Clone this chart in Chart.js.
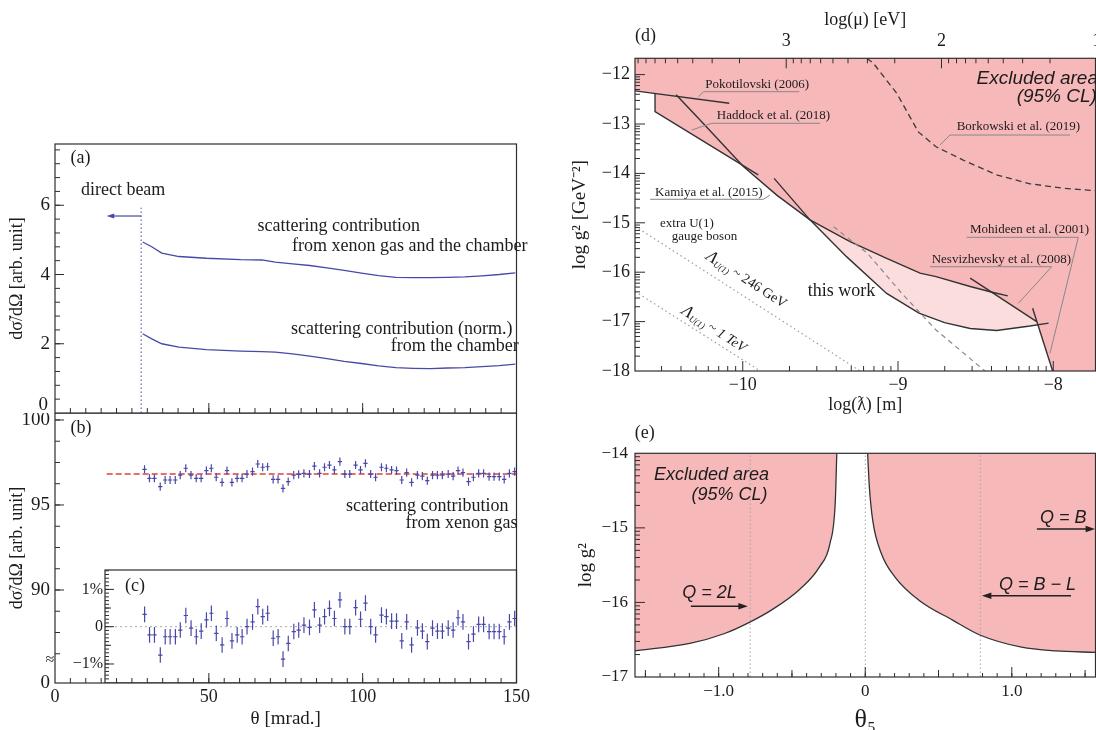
<!DOCTYPE html>
<html><head><meta charset="utf-8"><title>Scattering and exclusion limits</title>
<script src="https://cdn.jsdelivr.net/npm/chart.js@4.4.1/dist/chart.umd.min.js"></script>
<style>
html,body{margin:0;padding:0;background:#fff;width:1096px;height:730px;overflow:hidden;position:relative;}
canvas{position:absolute;display:block;}
</style></head>
<body>
<canvas id="cB" width="530" height="317" style="left:0px;top:413px;width:530px;height:317px"></canvas>
<canvas id="cC" width="470" height="117" style="left:60px;top:566px;width:470px;height:117px"></canvas>
<canvas id="cA" width="530" height="325" style="left:0px;top:100px;width:530px;height:325px"></canvas>
<canvas id="cD" width="536" height="420" style="left:560px;top:0px;width:536px;height:420px"></canvas>
<canvas id="cE" width="536" height="310" style="left:560px;top:420px;width:536px;height:310px"></canvas>
<script>
const SERIF = "'Liberation Serif', 'Times New Roman', serif";
const SANS = "'Liberation Sans', Arial, sans-serif";
const INK = '#1c1c1c', FRAME = '#2e2e2e', BLUE = '#4848a8', RED = '#e2403a';
const PINK = '#f7b8ba', PINK_LIGHT = '#fcdddd', CURVE = '#333333';

// ---------- panel (a) ----------
const thetaMin = 0, thetaMax = 150;
const thetaTicks = [0, 50, 100, 150];
const aYMax = 7.77;
const aYTicks = [0, 2, 4, 6];
const aTheta = [28.5,31.3,34.7,40.3,49.2,60.4,67.2,71.6,77.2,82.8,88.4,94.0,99.6,105.2,110.8,116.4,122.0,127.6,133.2,138.8,144.4,149.6];
const aXenonAndChamber = [4.94,4.81,4.62,4.52,4.47,4.43,4.42,4.36,4.31,4.26,4.19,4.12,4.04,3.97,3.92,3.91,3.91,3.92,3.93,3.96,4.00,4.05];
const aChamberOnly = [2.29,2.15,2.00,1.90,1.83,1.79,1.77,1.76,1.71,1.64,1.57,1.49,1.43,1.36,1.31,1.29,1.28,1.30,1.31,1.34,1.37,1.41];
const beamEdgeTheta = 28.0, beamEdgeTop = 5.93;
const beamArrowTo = 16.8, beamArrowLevel = 5.69;

// ---------- panels (b) and (c) ----------
const bYMin = 84.53, bYMax = 100.41;
const bYTicks = [100, 95, 90];
const bcTheta = [29.1,30.7,32.3,34.2,35.8,37.4,39.1,40.7,42.5,44.2,45.9,47.5,49.2,50.8,52.4,54.3,55.9,57.5,59.2,60.8,62.4,64.2,65.9,67.5,69.1,70.9,72.5,74.1,75.8,77.6,79.2,80.9,82.7,84.3,86.0,87.6,89.2,90.8,92.6,94.2,95.8,97.7,99.3,100.9,102.6,104.2,106.1,107.7,109.4,111.0,112.7,114.3,115.9,117.8,119.4,121.0,122.7,124.3,125.9,127.8,129.4,131.0,132.6,134.4,136.0,137.7,139.3,141.1,142.7,144.4,146.0,147.7,149.4];
const bXenonGas = [97.10,96.57,96.57,96.08,96.47,96.47,96.47,96.76,97.16,96.76,96.57,96.57,97.02,97.16,96.63,96.33,97.02,96.33,96.57,96.57,96.82,96.96,97.41,97.22,97.25,96.51,96.51,95.98,96.37,96.76,96.80,96.86,96.82,97.29,96.86,97.22,97.35,97.06,97.55,96.82,96.82,97.35,97.06,97.45,96.82,96.63,97.22,97.16,97.06,97.02,96.47,96.90,96.33,96.76,96.70,96.43,96.76,96.76,96.76,96.82,96.70,97.02,96.90,96.37,96.63,96.86,96.86,96.67,96.67,96.67,96.51,96.86,96.96];
const bFitLevel = 96.82, bFitStart = 16.8;
const bErr = 0.24, binHalfWidth = 0.7;
const cXMin = 16.22, cYMin = -1.51, cYMax = 1.52;
const cYTicks = [1, 0, -1];
const cResidual = [0.33,-0.22,-0.22,-0.76,-0.27,-0.27,-0.27,-0.09,0.30,-0.04,-0.27,-0.12,0.18,0.36,-0.18,-0.49,0.22,-0.38,-0.22,-0.27,0.00,0.13,0.54,0.27,0.36,-0.31,-0.27,-0.87,-0.45,-0.13,-0.09,0.04,-0.02,0.45,0.04,0.27,0.49,0.22,0.72,0.00,0.00,0.51,0.20,0.63,0.00,-0.22,0.31,0.27,0.15,0.15,-0.38,0.13,-0.49,-0.03,-0.12,-0.40,-0.04,-0.12,-0.12,-0.04,-0.09,0.24,0.13,-0.40,-0.20,0.06,0.06,-0.13,-0.13,-0.13,-0.27,0.13,0.22];
const cErr = 0.21;

// ---------- panel (d) ----------
const dXMin = -10.694, dXMax = -7.728, dYMin = -18, dYMax = -11.67;
const HC_LOG = 6.72; // log(mu[eV]) = -HC_LOG - log(lambda[m])
const dXTicks = [-10, -9, -8];
const dYTicks = [-12, -13, -14, -15, -16, -17, -18];
const dMuTicks = [3, 2, 1];
const dPokotilovski = [[-10.694,-12.33],[-10.087,-12.58]];
const dHaddock = [[-10.565,-12.38],[-10.565,-12.75],[-9.90,-14.03]];
const dKamiya = [[-10.429,-12.41],[-10.254,-12.99],[-9.996,-13.86],[-9.781,-14.44],[-9.567,-14.94],[-9.309,-15.38],[-9.073,-15.72],[-8.858,-16.02],[-8.755,-16.09],[-8.535,-16.29],[-8.40,-16.40],[-8.293,-16.48]];
const dThisWork = [[-9.798,-14.10],[-9.567,-14.94],[-9.33,-15.69],[-9.073,-16.43],[-8.865,-16.83],[-8.70,-17.02],[-8.535,-17.14],[-8.365,-17.18],[-8.15,-17.09],[-8.03,-17.03]];
const dNesvizhevsky = [[-8.535,-16.12],[-8.107,-17.00]];
const dMohideen = [[-8.133,-16.73],[-8.004,-18.00]];
const dBorkowski = [[-9.20,-11.67],[-9.159,-11.77],[-9.008,-12.38],[-8.869,-13.16],[-8.755,-13.46],[-8.58,-13.73],[-8.365,-14.03],[-8.15,-14.21],[-7.936,-14.30],[-7.728,-14.35]];
const dOtherDashed = [[-9.415,-15.08],[-9.196,-15.62],[-8.975,-16.43],[-8.755,-17.17],[-8.44,-18.00]];
const dLambda246GeV = [[-10.694,-15.07],[-9.244,-18.00]];
const dLambda1TeV = [[-10.694,-16.39],[-9.887,-18.00]];
const dExcludedEdge = [[-10.694,-12.33],[-10.565,-12.38],[-10.565,-12.75],[-9.996,-13.845],[-9.781,-14.44],[-9.567,-14.94],[-9.309,-15.38],[-9.073,-15.72],[-8.858,-16.02],[-8.755,-16.09],[-8.535,-16.29],[-8.40,-16.40],[-8.107,-17.00],[-8.004,-18.00]];

// ---------- panel (e) ----------
const eXMin = -1.571, eXMax = 1.571, eYMin = -17, eYMax = -14;
const eXTicks = [-1, 0, 1];
const eYTicks = [-14, -15, -16, -17];
const thetaMarks = [-0.785, 0, 0.785];
const eLeftEdge = [[-1.571,-16.65],[-1.197,-16.55],[-0.964,-16.42],[-0.784,-16.26],[-0.638,-16.10],[-0.45,-15.83],[-0.311,-15.52],[-0.241,-15.21],[-0.205,-14.67],[-0.194,-14.0]];
const eRightEdge = [[0.016,-14.0],[0.028,-14.45],[0.051,-14.90],[0.109,-15.34],[0.203,-15.66],[0.366,-15.97],[0.599,-16.24],[0.786,-16.44],[1.066,-16.60],[1.30,-16.65],[1.571,-16.67]];

// ---------- helpers ----------
Chart.defaults.font.family = SERIF;
const minus = v => (v < 0 ? '\u2212' : '') + Math.abs(v);
const pairs = arr => arr.map(([x, y]) => ({x, y}));
const pts = (xs, ys) => xs.map((x, i) => ({x, y: ys[i]}));
function range(a, b, step) { const r = []; for (let i = 0; a + i * step <= b + 1e-9; i++) r.push(+(a + i * step).toFixed(6)); return r; }
function logMinor(n0, n1) { const r = []; for (let n = n0; n <= n1; n++) for (let k = 2; k <= 9; k++) r.push(n + Math.log10(k)); return r; }
function errorCross(xs, ys, ey, ex) {
  const d = [];
  xs.forEach((x, i) => { const y = ys[i]; d.push({x, y: y - ey}, {x, y: y + ey}, {x, y: null}, {x: x - ex, y}, {x: x + ex, y}, {x, y: null}); });
  return d;
}
function line(data, color, width, extra) {
  return Object.assign({type: 'line', data, borderColor: color, borderWidth: width, pointRadius: 0, fill: false, tension: 0, order: 1, xAxisID: 'x', yAxisID: 'y'}, extra || {});
}
function fillEnd(data, color, order, extra) {
  return Object.assign({type: 'line', data, borderColor: 'rgba(0,0,0,0)', borderWidth: 0, backgroundColor: color, fill: 'end', pointRadius: 0, tension: 0, order, xAxisID: 'x', yAxisID: 'y'}, extra || {});
}
function axis(o) {
  return {
    type: 'linear', position: o.position, min: o.min, max: o.max, reverse: !!o.reverse, display: o.display !== false,
    grid: {display: false, drawTicks: false}, border: {display: false},
    ticks: {font: {family: SERIF, size: o.fontSize || 18}, color: INK, padding: o.pad == null ? 5 : o.pad, autoSkip: false, maxRotation: 0, minRotation: 0, callback: o.fmt || (v => minus(v))},
    title: o.title ? {display: true, text: o.title, font: {family: SERIF, size: o.titleSize || 18}, color: INK, padding: o.titlePad || {top: 0, bottom: 0}} : {display: false},
    afterBuildTicks: s => { if (o.ticks) s.ticks = o.ticks.map(v => ({value: v})); },
    afterFit: s => {
      if (o.size != null) { if (s.isHorizontal()) s.height = o.size; else s.width = o.size; }
      s.paddingLeft = 0; s.paddingRight = 0; s.paddingTop = 0; s.paddingBottom = 0;
    }
  };
}
function baseOptions(scales, padding) {
  return {responsive: false, animation: false, events: [], devicePixelRatio: 1, layout: {padding},
    plugins: {legend: {display: false}, tooltip: {enabled: false}, title: {display: false}}, scales};
}
function decor(spec) {
  return {
    id: spec.id,
    afterDatasetsDraw(chart) {
      const ctx = chart.ctx, a = chart.chartArea;
      const xs = chart.scales[spec.xScale || 'x'], ys = chart.scales[spec.yScale || 'y'];
      const X = v => xs.getPixelForValue(v), Y = v => ys.getPixelForValue(v);
      ctx.save();
      (spec.segments || []).forEach(s => {
        ctx.beginPath(); ctx.strokeStyle = s.color || '#888'; ctx.lineWidth = s.width || 1; ctx.setLineDash(s.dash || []);
        s.pts.forEach((p, i) => { const px = X(p[0]), py = Y(p[1]); if (i) ctx.lineTo(px, py); else ctx.moveTo(px, py); });
        ctx.stroke();
      });
      ctx.setLineDash([]);
      (spec.arrows || []).forEach(r => {
        const x1 = X(r.x1), y1 = Y(r.y1), x2 = X(r.x2), y2 = Y(r.y2), h = r.head || 9, ang = Math.atan2(y2 - y1, x2 - x1);
        ctx.strokeStyle = r.color || INK; ctx.fillStyle = r.color || INK; ctx.lineWidth = r.width || 1.4;
        ctx.beginPath(); ctx.moveTo(x1, y1); ctx.lineTo(x2 - Math.cos(ang) * h * 0.6, y2 - Math.sin(ang) * h * 0.6); ctx.stroke();
        ctx.beginPath(); ctx.moveTo(x2, y2);
        ctx.lineTo(x2 - h * Math.cos(ang - 0.33), y2 - h * Math.sin(ang - 0.33));
        ctx.lineTo(x2 - h * Math.cos(ang + 0.33), y2 - h * Math.sin(ang + 0.33));
        ctx.closePath(); ctx.fill();
      });
      ctx.strokeStyle = FRAME; ctx.lineWidth = 1;
      (spec.ticks || []).forEach(t => {
        const sc = chart.scales[t.scale];
        const horiz = t.edge === 'top' || t.edge === 'bottom';
        [[t.minor || [], t.minorLen || 4], [t.medium || [], t.mediumLen || 6], [t.major || [], t.majorLen || 9]].forEach(([vals, len]) => {
          vals.forEach(v => {
            const p = sc.getPixelForValue(v);
            ctx.beginPath();
            if (horiz) {
              if (p < a.left + 0.5 || p > a.right - 0.5) return;
              const y0 = t.edge === 'bottom' ? a.bottom : a.top;
              ctx.moveTo(p, y0); ctx.lineTo(p, t.edge === 'bottom' ? y0 - len : y0 + len);
            } else {
              if (p < a.top + 0.5 || p > a.bottom - 0.5) return;
              const x0 = t.edge === 'left' ? a.left : a.right;
              ctx.moveTo(x0, p); ctx.lineTo(t.edge === 'left' ? x0 + len : x0 - len, p);
            }
            ctx.stroke();
          });
        });
      });
      if (spec.frame !== false) { ctx.strokeStyle = FRAME; ctx.lineWidth = 1.2; ctx.strokeRect(a.left, a.top, a.right - a.left, a.bottom - a.top); }
      (spec.texts || []).forEach(t => {
        ctx.save();
        ctx.translate(X(t.x), Y(t.y));
        if (t.rotate) ctx.rotate(t.rotate * Math.PI / 180);
        ctx.fillStyle = t.color || INK; ctx.textBaseline = 'middle'; ctx.textAlign = 'left';
        const parts = t.parts || [{text: t.text, font: t.font}];
        let total = 0;
        const widths = parts.map(p => { ctx.font = p.font; const w = ctx.measureText(p.text).width; total += w; return w; });
        let cx = t.align === 'right' ? -total : (t.align === 'center' ? -total / 2 : 0);
        parts.forEach((p, i) => { ctx.font = p.font; ctx.fillText(p.text, cx, p.dy || 0); cx += widths[i]; });
        ctx.restore();
      });
      ctx.restore();
    }
  };
}
const F = (size, style) => `${style ? style + ' ' : ''}${size}px ${SERIF}`;
const FS = (size) => `italic ${size}px ${SANS}`;
const yTitleAB = 'd\u03C3\u0303/d\u03A9 [arb. unit]';

// ---------- chart (b) ----------
new Chart(document.getElementById('cB'), {
  type: 'line',
  data: {datasets: [
    line([{x: bFitStart, y: bFitLevel}, {x: thetaMax, y: bFitLevel}], RED, 1.6, {borderDash: [6, 3], order: 2}),
    line(errorCross(bcTheta, bXenonGas, bErr, binHalfWidth), BLUE, 1.2, {order: 1})
  ]},
  options: baseOptions({
    x: axis({position: 'bottom', min: thetaMin, max: thetaMax, ticks: thetaTicks, size: 47, fontSize: 18, pad: 3.5, title: '\u03B8 [mrad.]', titleSize: 19, titlePad: {top: 0, bottom: 0}}),
    y: axis({position: 'left', min: bYMin, max: bYMax, ticks: [...bYTicks, bYMin], size: 55, fontSize: 19, pad: 5, fmt: v => (v === bYMin ? '0' : String(v)), title: yTitleAB, titleSize: 18, titlePad: {top: 6, bottom: 0}})
  }, {top: 0, right: 13.5, bottom: 0, left: 0}),
  plugins: [decor({
    id: 'decorB',
    ticks: [
      {scale: 'y', edge: 'left', major: [...bYTicks], minor: range(86.25, 100, 1.25), majorLen: 9, minorLen: 5},
      {scale: 'x', edge: 'bottom', major: thetaTicks, minor: range(0, 150, 5), majorLen: 10, minorLen: 5}
    ],
    texts: [
      {x: 5.07, y: 99.5, text: '(b)', font: F(18)},
      {x: 94.58, y: 94.94, text: 'scattering contribution', font: F(18)},
      {x: 113.95, y: 93.92, text: 'from xenon gas', font: F(18)},
      {x: -1.7, y: 85.88, text: '\u2248', font: F(16), align: 'center'}
    ]
  })]
});

// ---------- chart (c) inset ----------
new Chart(document.getElementById('cC'), {
  type: 'line',
  data: {datasets: [
    line([{x: cXMin, y: 0}, {x: thetaMax, y: 0}], '#a8a8a8', 1, {borderDash: [2, 3], order: 2}),
    line(errorCross(bcTheta, cResidual, cErr, binHalfWidth), BLUE, 1.2, {order: 1})
  ]},
  options: baseOptions({
    x: axis({position: 'bottom', min: cXMin, max: thetaMax, display: false}),
    y: axis({position: 'left', min: cYMin, max: cYMax, ticks: cYTicks, size: 45, fontSize: 16, pad: 2, fmt: v => (v === 0 ? '0' : minus(v) + '%')})
  }, {top: 4, right: 13.5, bottom: 0, left: 0}),
  plugins: [decor({
    id: 'decorC',
    ticks: [{scale: 'y', edge: 'left', major: cYTicks, medium: [-0.5, 0.5], minor: range(-1.5, 1.5, 0.1), majorLen: 9, mediumLen: 6, minorLen: 4}],
    texts: [{x: 22.75, y: 1.072, text: '(c)', font: F(18)}]
  })]
});

// ---------- chart (a) ----------
new Chart(document.getElementById('cA'), {
  type: 'line',
  data: {datasets: [
    line(pts(aTheta, aXenonAndChamber), BLUE, 1.3),
    line(pts(aTheta, aChamberOnly), BLUE, 1.3),
    line([{x: beamEdgeTheta, y: 0}, {x: beamEdgeTheta, y: beamEdgeTop}], BLUE, 1, {borderDash: [1.5, 2.5]})
  ]},
  options: baseOptions({
    x: axis({position: 'bottom', min: thetaMin, max: thetaMax, display: false}),
    y: axis({position: 'left', min: 0, max: aYMax, ticks: aYTicks, size: 55, fontSize: 19, pad: 5, fmt: v => (v === 0 ? '' : minus(v)), title: yTitleAB, titleSize: 18, titlePad: {top: 6, bottom: 0}})
  }, {top: 44, right: 13.5, bottom: 12, left: 0}),
  plugins: [decor({
    id: 'decorA',
    ticks: [
      {scale: 'y', edge: 'left', major: aYTicks, minor: range(0, 7.6, 0.4), majorLen: 9, minorLen: 5},
      {scale: 'x', edge: 'bottom', major: thetaTicks, minor: range(0, 150, 5), majorLen: 10, minorLen: 5}
    ],
    arrows: [{x1: beamEdgeTheta, y1: beamArrowLevel, x2: beamArrowTo, y2: beamArrowLevel, color: BLUE, head: 8, width: 1.2}],
    texts: [
      {x: -2.28, y: 0.231, text: '0', font: F(19), align: 'right'},
      {x: 5.07, y: 7.357, text: '(a)', font: F(18)},
      {x: 8.42, y: 6.421, text: 'direct beam', font: F(18)},
      {x: 65.85, y: 5.381, text: 'scattering contribution', font: F(18)},
      {x: 77.03, y: 4.824, text: 'from xenon gas and the chamber', font: F(18)},
      {x: 76.71, y: 2.418, text: 'scattering contribution (norm.)', font: F(18)},
      {x: 109.14, y: 1.935, text: 'from the chamber', font: F(18)}
    ]
  })]
});

// ---------- chart (d) ----------
new Chart(document.getElementById('cD'), {
  type: 'line',
  data: {datasets: [
    fillEnd(pairs(dThisWork), PINK_LIGHT, 20),
    fillEnd(pairs(dExcludedEdge).concat([{x: dXMax, y: dYMin}]), PINK, 10),
    line(pairs(dLambda246GeV), '#9c9c9c', 1.2, {borderDash: [1.5, 3]}),
    line(pairs(dLambda1TeV), '#9c9c9c', 1.2, {borderDash: [1.5, 3]}),
    line(pairs(dOtherDashed), '#8a8a8a', 1.2, {borderDash: [5, 4]}),
    line(pairs(dBorkowski), '#3a3a3a', 1.3, {borderDash: [6, 4]}),
    line(pairs(dPokotilovski), CURVE, 1.4),
    line(pairs(dHaddock), CURVE, 1.4),
    line(pairs(dKamiya), CURVE, 1.4),
    line(pairs(dThisWork), CURVE, 1.4),
    line(pairs(dNesvizhevsky), CURVE, 1.4),
    line(pairs(dMohideen), CURVE, 1.4)
  ]},
  options: baseOptions({
    x: axis({position: 'bottom', min: dXMin, max: dXMax, ticks: dXTicks, size: 49, fontSize: 18, pad: 3.2, title: 'log(\u019B) [m]', titleSize: 18, titlePad: {top: 0, bottom: 4.2}}),
    x2: axis({position: 'top', min: -HC_LOG - dXMax, max: -HC_LOG - dXMin, reverse: true, ticks: dMuTicks, size: 58.3, fontSize: 18, pad: 5.8, title: 'log(\u03BC) [eV]', titleSize: 18, titlePad: {top: 9.2, bottom: 0}}),
    y: axis({position: 'left', min: dYMin, max: dYMax, ticks: dYTicks, size: 75, fontSize: 18, pad: 5, title: 'log g\u00B2 [GeV\u207B\u00B2]', titleSize: 19, titlePad: {top: 9.1, bottom: 0}})
  }, {top: 0, right: 0.5, bottom: 0, left: 0}),
  plugins: [decor({
    id: 'decorD',
    ticks: [
      {scale: 'y', edge: 'left', major: dYTicks, minor: logMinor(-18, -13), majorLen: 10, minorLen: 5},
      {scale: 'x', edge: 'bottom', major: dXTicks, minor: logMinor(-11, -9), majorLen: 10, minorLen: 5},
      {scale: 'x2', edge: 'top', major: dMuTicks, minor: logMinor(1, 3), majorLen: 10, minorLen: 5}
    ],
    segments: [
      {pts: [[-10.285, -12.447], [-10.252, -12.346], [-9.636, -12.346]]},
      {pts: [[-10.328, -13.121], [-10.200, -12.986], [-9.502, -12.986]]},
      {pts: [[-10.597, -14.524], [-9.867, -14.524], [-9.824, -14.437]]},
      {pts: [[-8.730, -13.425], [-8.665, -13.223], [-7.892, -13.223]]},
      {pts: [[-8.558, -15.294], [-7.839, -15.294], [-8.021, -17.642]]},
      {pts: [[-8.794, -15.889], [-8.010, -15.889], [-8.225, -16.630]]}
    ],
    texts: [
      {x: -10.694, y: -11.233, text: '(d)', font: F(18)},
      {x: -10.241, y: -12.211, text: 'Pokotilovski (2006)', font: F(13)},
      {x: -10.167, y: -12.838, text: 'Haddock et al. (2018)', font: F(13)},
      {x: -10.565, y: -14.391, text: 'Kamiya et al. (2015)', font: F(13)},
      {x: -10.533, y: -15.024, text: 'extra U(1)', font: F(13)},
      {x: -10.457, y: -15.281, text: 'gauge boson', font: F(13)},
      {x: -8.622, y: -13.055, text: 'Borkowski et al. (2019)', font: F(13)},
      {x: -8.536, y: -15.146, text: 'Mohideen et al. (2001)', font: F(13)},
      {x: -8.783, y: -15.753, text: 'Nesvizhevsky et al. (2008)', font: F(13)},
      {x: -9.581, y: -16.395, text: 'this work', font: F(18)},
      {x: -7.712, y: -12.075, text: 'Excluded area', font: FS(19), align: 'right'},
      {x: -7.719, y: -12.447, text: '(95% CL)', font: FS(19), align: 'right'},
      {x: -9.977, y: -16.158, rotate: 33, align: 'center', parts: [
        {text: '\u039B', font: F(17, 'italic')}, {text: 'U(1)', font: F(9, 'italic'), dy: 4}, {text: ' ~ 246 GeV', font: F(14)}]},
      {x: -10.186, y: -17.156, rotate: 33, align: 'center', parts: [
        {text: '\u039B', font: F(17, 'italic')}, {text: 'U(1)', font: F(9, 'italic'), dy: 4}, {text: ' ~ 1 TeV', font: F(14, 'italic')}]}
    ]
  })]
});

// ---------- chart (e) ----------
new Chart(document.getElementById('cE'), {
  type: 'line',
  data: {datasets: [
    fillEnd(pairs(eLeftEdge), PINK, 10, {cubicInterpolationMode: 'monotone'}),
    fillEnd(pairs(eRightEdge), PINK, 10, {cubicInterpolationMode: 'monotone'}),
    ...thetaMarks.map(t => line([{x: t, y: eYMin}, {x: t, y: eYMax}], '#a4a4a4', 1, {borderDash: [1.5, 2.5], order: 5})),
    line(pairs(eLeftEdge), CURVE, 1.3, {cubicInterpolationMode: 'monotone'}),
    line(pairs(eRightEdge), CURVE, 1.3, {cubicInterpolationMode: 'monotone'})
  ]},
  options: baseOptions({
    x: axis({position: 'bottom', min: eXMin, max: eXMax, ticks: eXTicks, size: 53, fontSize: 17, pad: 4.5, fmt: v => (v === 0 ? '0' : (v < 0 ? '\u2212' : '') + Math.abs(v).toFixed(1)), title: '\u03B8\u2085', titleSize: 26, titlePad: {top: 0, bottom: -5.6}}),
    y: axis({position: 'left', min: eYMin, max: eYMax, ticks: eYTicks, size: 75, fontSize: 17, pad: 7, title: 'log g\u00B2', titleSize: 19, titlePad: {top: 14.2, bottom: 0}})
  }, {top: 33.3, right: 0.5, bottom: 0, left: 0}),
  plugins: [decor({
    id: 'decorE',
    ticks: [
      {scale: 'y', edge: 'left', major: eYTicks, minor: logMinor(-17, -15), majorLen: 10, minorLen: 5},
      {scale: 'x', edge: 'bottom', major: eXTicks, medium: [-1.5, -0.5, 0.5, 1.5], minor: range(-1.5, 1.5, 0.1), majorLen: 10, mediumLen: 7, minorLen: 4}
    ],
    arrows: [
      {x1: 1.171, y1: -15.016, x2: 1.568, y2: -15.016, color: '#222', head: 10, width: 1.4},
      {x1: -1.190, y1: -16.051, x2: -0.801, y2: -16.051, color: '#222', head: 10, width: 1.4},
      {x1: 1.404, y1: -15.911, x2: 0.796, y2: -15.911, color: '#222', head: 10, width: 1.4}
    ],
    texts: [
      {x: -1.572, y: -13.728, text: '(e)', font: F(18)},
      {x: -1.442, y: -14.291, text: 'Excluded area', font: FS(18)},
      {x: -1.186, y: -14.560, text: '(95% CL)', font: FS(18)},
      {x: 1.192, y: -14.872, text: 'Q = B', font: FS(18)},
      {x: -1.248, y: -15.879, text: 'Q = 2L', font: FS(18)},
      {x: 0.913, y: -15.768, text: 'Q = B \u2212 L', font: FS(18)}
    ]
  })]
});
</script>
</body></html>
